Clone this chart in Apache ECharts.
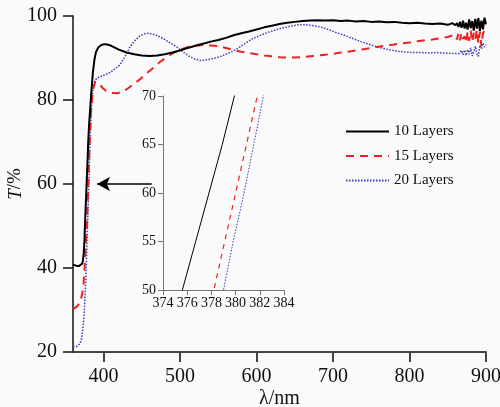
<!DOCTYPE html>
<html>
<head>
<meta charset="utf-8">
<script src="https://cdn.jsdelivr.net/npm/echarts@6/dist/echarts.min.js"></script>
<style>
html, body { margin: 0; padding: 0; background: #fafafa; }
#chart { width: 500px; height: 407px; }
</style>
</head>
<body>
<div id="chart"></div>
<script>
// Transmittance spectra (T, %) of the multilayer films vs wavelength (nm)
const wl10 = [360,362,365,368,370,372,373,374,375,375.6,376.7,377.8,378.9,379.9,381,382.5,384,386,388,390,393,397,401,405,410,420,430,440,450,460,470,480,490,500,510,520,530,540,550,560,570,580,590,600,610,620,630,640,650,660,670,680,690,700,710,720,730,740,750,760,770,780,790,800,810,820,830,840,850,856,860,862,864,866,868,870,872,874,876,878,880,882,884,886,888,890,892,894,896,898,900];
const t10  = [40.8,40.6,40.5,40.5,40.6,41,41.8,43.5,46.5,50,55,60,65,70,74,78,82,86.5,89.6,91.4,92.5,93.1,93.3,93.2,92.9,92.0,91.3,90.9,90.6,90.5,90.6,90.9,91.3,91.8,92.4,92.9,93.4,93.9,94.3,94.8,95.4,95.9,96.3,96.8,97.3,97.7,98.1,98.4,98.6,98.8,98.9,99.0,98.9,99.0,98.8,98.9,98.7,98.8,98.6,98.7,98.5,98.6,98.4,98.3,98.4,98.2,98.1,98.2,97.9,98.3,97.8,98.3,97.4,98.6,97.2,98.9,97.0,98.4,96.8,99.2,97.1,98.8,96.5,99.3,97.0,99.5,96.4,98.9,96.8,99.6,98.0];

const wl15 = [360,362,365,368,370,372,373.5,375,376,377,378.2,379.1,380,380.9,381.7,382.5,383.5,385,387,389,391,394,398,403,410,418,425,432,440,448,456,464,472,480,490,500,510,520,530,540,550,560,570,580,590,600,610,620,630,640,650,660,670,680,690,700,710,720,730,740,750,760,770,780,790,800,810,820,830,840,850,855,860,862,864,866,868,870,872,874,876,878,880,882,884,886,888,890,892,894,896,898,900];
const t15  = [30.2,30.4,30.8,31.5,32.2,34,35.5,39.5,43,46.8,50,55,60,65,69.5,73,77,80.5,83,84.3,84.6,84,83,82.2,81.7,81.6,82,82.8,83.9,85,86.3,87.5,88.8,89.9,91.1,92,92.6,92.9,93.1,93.0,92.8,92.4,91.9,91.5,91.2,90.9,90.6,90.4,90.2,90.1,90.1,90.2,90.4,90.6,90.8,91.0,91.3,91.5,91.8,92.1,92.4,92.7,93.0,93.2,93.5,93.7,94.0,94.2,94.4,94.7,95.0,95.3,95.5,94.4,95.9,94.2,96.0,94.6,95.2,93.6,96.3,94.1,96.5,93.8,96.0,94.5,96.7,93.5,96.2,92.8,95.8,96.6,96.3];

const wl20 = [360,363,366,369,371,372.5,374.4,375.5,376.6,377.6,378.3,379,379.8,380.7,381.5,382.3,383.3,384.5,386,388,391,396,402,408,414,421,428,434,440,447,455,462,468,474,480,488,496,505,513,520,528,536,544,552,560,570,578,586,595,605,615,625,635,645,655,665,675,685,695,705,715,725,735,745,755,765,775,785,795,805,815,825,835,845,855,865,868,870,872,874,876,878,880,882,884,886,888,890,892,894,896,898,900];
const t20  = [21.3,21.3,21.4,22,22.9,25,28.4,32.5,36.4,42,46.5,50,55,60,65,70,75,79,82.5,84.3,85.2,85.6,86.0,86.5,87.3,88.3,90.3,92.5,94,95.2,95.9,95.8,95.5,95.0,94.4,93.5,92.6,91.3,90.3,89.7,89.4,89.6,89.9,90.3,90.9,91.7,92.6,93.6,94.6,95.4,96.1,96.7,97.2,97.6,97.9,97.9,97.7,97.3,96.7,96.0,95.4,94.7,94.0,93.4,92.8,92.3,91.9,91.6,91.4,91.3,91.3,91.2,91.3,91.2,91.1,91.1,91.8,90.8,91.9,90.6,92.0,90.9,92.4,90.5,91.5,92.8,91.0,90.4,93.0,92.2,93.5,92.6,93.2];

const seriesNames = ['10 Layers', '15 Layers', '20 Layers'];
const mainXTicks = [400, 500, 600, 700, 800, 900];
// Arrow pointing from the inset to the steep absorption edge (wavelength nm, T %)
const arrowFrom = [463, 60];
const arrowTo = [391.5, 60];

const pairs = (xs, ys) => xs.map((x, i) => [x, ys[i]]);
const serif = 'Liberation Serif, Times New Roman, Times, serif';

const styles = [
  { color: '#000000', type: 'solid', width: 2, insetWidth: 1 },
  { color: '#f02020', type: [8, 6], width: 2, insetWidth: 1.2 },
  { color: '#3a3ab8', type: [1.5, 1.5], width: 1.5, insetWidth: 1 }
];
const data = [pairs(wl10, t10), pairs(wl15, t15), pairs(wl20, t20)];

const series = [];
data.forEach((d, i) => {
  series.push({
    name: seriesNames[i], type: 'line', data: d, xAxisIndex: 0, yAxisIndex: 0,
    symbol: 'none', animation: false, z: 3 - i,
    lineStyle: { color: styles[i].color, width: styles[i].width, type: styles[i].type },
    itemStyle: { color: styles[i].color }
  });
});
data.forEach((d, i) => {
  series.push({
    name: seriesNames[i], type: 'line', data: d, xAxisIndex: 1, yAxisIndex: 1,
    symbol: 'none', animation: false, clip: true,
    lineStyle: { color: styles[i].color, width: styles[i].insetWidth, type: i === 1 ? [5, 5] : styles[i].type },
    itemStyle: { color: styles[i].color }
  });
});
series[0].markLine = {
  silent: true, animation: false,
  symbol: ['none', 'arrow'], symbolSize: [11, 13],
  label: { show: false },
  lineStyle: { color: '#000', width: 1.5, type: 'solid' },
  data: [[{ coord: arrowFrom }, { coord: arrowTo }]]
};

const chart = echarts.init(document.getElementById('chart'), null, { renderer: 'canvas' });
chart.setOption({
  backgroundColor: '#fafafa',
  animation: false,
  textStyle: { fontFamily: serif },
  grid: [
    { left: 73, top: 16, width: 413, height: 336, containLabel: false, outerBoundsMode: 'none' },
    { left: 163, top: 96, width: 121, height: 194, containLabel: false, outerBoundsMode: 'none' }
  ],
  legend: {
    data: seriesNames, orient: 'vertical', left: 340, top: 119,
    itemWidth: 43, itemHeight: 14, itemGap: 9.5,
    itemStyle: { opacity: 0, color: 'rgba(0,0,0,0)', borderWidth: 0 },
    textStyle: { fontFamily: serif, fontSize: 15, color: '#111' },
    selectedMode: false
  },
  xAxis: [
    {
      type: 'value', gridIndex: 0, min: 360, max: 900,
      name: 'λ/nm', nameLocation: 'middle', nameGap: 37, nameMoveOverlap: false,
      nameTextStyle: { fontFamily: serif, fontSize: 20, color: '#111' },
      axisLine: { lineStyle: { color: '#444', width: 2 } },
      axisTick: { show: true, inside: false, length: 10, customValues: mainXTicks, lineStyle: { color: '#444', width: 2 } },
      axisLabel: { customValues: mainXTicks, fontSize: 20, color: '#111', margin: 15, fontFamily: serif },
      splitLine: { show: false }
    },
    {
      type: 'value', gridIndex: 1, min: 374, max: 384, interval: 2,
      axisLine: { lineStyle: { color: '#777', width: 1 } },
      axisTick: { length: 5, lineStyle: { color: '#777', width: 1 } },
      axisLabel: { fontSize: 14, color: '#111', margin: 6, fontFamily: serif },
      splitLine: { show: false }
    }
  ],
  yAxis: [
    {
      type: 'value', gridIndex: 0, min: 20, max: 100, interval: 20,
      name: '{i|T}/%', nameLocation: 'middle', nameGap: 48, nameRotate: 90, nameMoveOverlap: false,
      nameTextStyle: {
        fontFamily: serif, fontSize: 19, color: '#111',
        rich: { i: { fontFamily: serif, fontSize: 19, fontStyle: 'italic', color: '#111' } }
      },
      axisLine: { show: true, lineStyle: { color: '#111', width: 1.5 } },
      axisTick: { show: true, length: 10, lineStyle: { color: '#111', width: 1.5 } },
      axisLabel: { fontSize: 20, color: '#111', margin: 16, fontFamily: serif },
      splitLine: { show: false }
    },
    {
      type: 'value', gridIndex: 1, min: 50, max: 70, interval: 5,
      axisLine: { show: true, lineStyle: { color: '#777', width: 1 } },
      axisTick: { show: true, length: 5, lineStyle: { color: '#777', width: 1 } },
      axisLabel: { fontSize: 14, color: '#111', margin: 7, fontFamily: serif },
      splitLine: { show: false }
    }
  ],
  series: series
});
</script>
</body>
</html>
